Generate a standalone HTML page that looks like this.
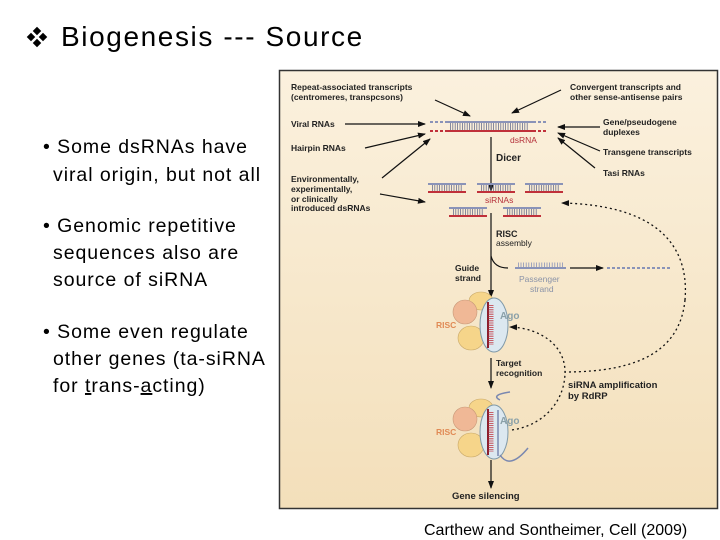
<!DOCTYPE html>
<html><head><meta charset="utf-8"><style>
html,body{margin:0;padding:0;background:#fff;width:720px;height:540px;overflow:hidden}
svg{display:block}
</style></head><body>
<svg width="720" height="540" viewBox="0 0 720 540" xmlns="http://www.w3.org/2000/svg" font-family="Liberation Sans, sans-serif">
<defs>
<linearGradient id="bg" x1="0" y1="0" x2="0" y2="1"><stop offset="0" stop-color="#fbf1de"/><stop offset="1" stop-color="#f3dfba"/></linearGradient>
<marker id="ah" markerWidth="8" markerHeight="8" refX="7" refY="4" orient="auto" markerUnits="userSpaceOnUse"><path d="M0,1 L8,4 L0,7 z" fill="#111"/></marker>
</defs>
<!-- title -->
<g fill="#000">
<rect x="34" y="28" width="6" height="6" transform="rotate(45 37 31)"/>
<rect x="34" y="40" width="6" height="6" transform="rotate(45 37 43)"/>
<rect x="28" y="34" width="6" height="6" transform="rotate(45 31 37)"/>
<rect x="40" y="34" width="6" height="6" transform="rotate(45 43 37)"/>
</g>
<text x="61" y="46" font-size="28" letter-spacing="1.6">Biogenesis --- Source</text>
<!-- bullets -->
<g font-size="19.5" fill="#000" letter-spacing="0.95">
<text x="43" y="153">• Some dsRNAs have</text>
<text x="53" y="181">viral origin, but not all</text>
<text x="43" y="232">• Genomic repetitive</text>
<text x="53" y="259">sequences also are</text>
<text x="53" y="286">source of siRNA</text>
<text x="43" y="338">• Some even regulate</text>
<text x="53" y="365">other genes (ta-siRNA</text>
<text x="53" y="392">for <tspan text-decoration="underline">t</tspan>rans-<tspan text-decoration="underline">a</tspan>cting)</text>
</g>
<text x="424" y="535" font-size="16">Carthew and Sontheimer, Cell (2009)</text>
<!-- figure -->
<rect x="279.5" y="70.5" width="438" height="438" fill="url(#bg)" stroke="#333" stroke-width="1.5"/>
<g font-size="8.5" font-weight="bold" fill="#222">
<text x="291" y="90">Repeat-associated transcripts</text>
<text x="291" y="100">(centromeres, transpcsons)</text>
<text x="570" y="90">Convergent transcripts and</text>
<text x="570" y="100">other sense-antisense pairs</text>
<text x="291" y="127">Viral RNAs</text>
<text x="291" y="151">Hairpin RNAs</text>
<text x="603" y="125">Gene/pseudogene</text>
<text x="603" y="135">duplexes</text>
<text x="603" y="155">Transgene transcripts</text>
<text x="603" y="176">Tasi RNAs</text>
<text x="291" y="182">Environmentally,</text>
<text x="291" y="192">experimentally,</text>
<text x="291" y="202">or clinically</text>
<text x="291" y="211">introduced dsRNAs</text>
<text x="496" y="161" font-size="10">Dicer</text>
<text x="496" y="237" font-size="9">RISC</text>
<text x="496" y="246" font-weight="normal">assembly</text>
<text x="455" y="271">Guide</text>
<text x="455" y="281">strand</text>
<text x="496" y="366">Target</text>
<text x="496" y="376">recognition</text>
<text x="568" y="388" font-size="9.5">siRNA amplification</text>
<text x="568" y="399" font-size="9.5">by RdRP</text>
<text x="452" y="499" font-size="9.5">Gene silencing</text>
</g>
<g font-size="8.5" font-weight="bold">
<text x="510" y="143" fill="#b5303a" font-weight="normal">dsRNA</text>
<text x="485" y="203" fill="#b5303a" font-weight="normal">siRNAs</text>
<text x="519" y="282" fill="#8a93a8" font-weight="normal">Passenger</text>
<text x="530" y="292" fill="#8a93a8" font-weight="normal">strand</text>
</g>
<!-- arrows -->
<g stroke="#111" stroke-width="1.2" fill="none" marker-end="url(#ah)">
<line x1="435" y1="100" x2="470" y2="116"/>
<line x1="561" y1="90" x2="512" y2="113"/>
<line x1="345" y1="124" x2="425" y2="124"/>
<line x1="365" y1="148" x2="425" y2="134"/>
<line x1="600" y1="127" x2="558" y2="127"/>
<line x1="600" y1="151" x2="558" y2="133"/>
<line x1="595" y1="168" x2="558" y2="138"/>
<line x1="382" y1="178" x2="430" y2="139"/>
<line x1="380" y1="194" x2="425" y2="202"/>
<line x1="491" y1="137" x2="491" y2="191"/>
<line x1="491" y1="213" x2="491" y2="297"/>
<line x1="570" y1="268" x2="603" y2="268"/>
<line x1="491" y1="358" x2="491" y2="388"/>
<line x1="491" y1="460" x2="491" y2="488"/>
</g>
<path d="M491,256 Q494,268 508,268" stroke="#111" stroke-width="1.2" fill="none"/>
<!-- dotted -->
<g stroke="#111" stroke-width="1.3" fill="none" stroke-dasharray="2,3">
<path d="M685,300 C690,240 650,205 562,203" marker-end="url(#ah)"/>
<path d="M685,300 C680,350 640,372 565,372"/>
<path d="M512,430 C545,425 565,400 565,372 C565,345 540,328 510,327" marker-end="url(#ah)"/>
</g>
<!-- dsRNA -->
<g stroke-width="2">
<line x1="430" y1="122" x2="445" y2="122" stroke="#8a93b8" stroke-dasharray="3,2"/>
<line x1="445" y1="122" x2="533" y2="122" stroke="#8a93b8"/>
<line x1="533" y1="122" x2="548" y2="122" stroke="#8a93b8" stroke-dasharray="3,2"/>
<line x1="430" y1="131" x2="445" y2="131" stroke="#c0303a" stroke-dasharray="3,2"/>
<line x1="445" y1="131" x2="533" y2="131" stroke="#c0303a"/>
<line x1="533" y1="131" x2="548" y2="131" stroke="#c0303a" stroke-dasharray="3,2"/>
<line x1="450" y1="126.5" x2="528" y2="126.5" stroke="#6a7090" stroke-width="7" stroke-dasharray="0.8,1.6"/>
</g>
<!-- siRNAs -->
<g stroke-width="2">
<g id="s1">
<line x1="428" y1="184" x2="466" y2="184" stroke="#8a93b8"/>
<line x1="428" y1="192" x2="466" y2="192" stroke="#c0303a"/>
<line x1="432" y1="188" x2="462" y2="188" stroke="#6a7090" stroke-width="6" stroke-dasharray="0.8,1.6"/>
</g>
<use href="#s1" transform="translate(49,0)"/>
<use href="#s1" transform="translate(97,0)"/>
<use href="#s1" transform="translate(21,24)"/>
<use href="#s1" transform="translate(75,24)"/>
</g>
<!-- passenger -->
<line x1="515" y1="268" x2="566" y2="268" stroke="#8a93b8" stroke-width="2"/>
<line x1="518" y1="265" x2="563" y2="265" stroke="#8a93b8" stroke-width="5" stroke-dasharray="0.8,1.8"/>
<line x1="607" y1="268" x2="670" y2="268" stroke="#8a93b8" stroke-width="2" stroke-dasharray="3,2"/>
<!-- RISC 1 -->
<g id="risc">
<ellipse cx="481" cy="301" rx="12" ry="9" fill="#f6d58a" stroke="#c8a868" stroke-width="0.6"/>
<ellipse cx="465" cy="312" rx="12" ry="12" fill="#f0b896" stroke="#c89878" stroke-width="0.6"/>
<ellipse cx="471" cy="338" rx="13" ry="12" fill="#f6d58a" stroke="#c8a868" stroke-width="0.6"/>
<ellipse cx="494" cy="325" rx="14" ry="27" fill="#dce8f0" stroke="#7f99a8" stroke-width="1"/>
<line x1="488" y1="302" x2="488" y2="348" stroke="#8a1f2e" stroke-width="2"/>
<line x1="491" y1="305" x2="491" y2="345" stroke="#c0303a" stroke-width="5" stroke-dasharray="0.8,1.4"/>
</g>
<use href="#risc" transform="translate(0,107)"/>
<line x1="498" y1="410" x2="498" y2="456" stroke="#7a88b0" stroke-width="1.5"/>
<path d="M500,400 Q490,395 510,392 M500,455 Q510,470 528,448" stroke="#7a88b0" stroke-width="1.5" fill="none"/>
<g font-size="8.5" font-weight="bold">
<text x="436" y="328" fill="#e08a55">RISC</text>
<text x="500" y="319" fill="#8aa0a8" font-size="10">Ago</text>
<text x="436" y="435" fill="#e08a55">RISC</text>
<text x="500" y="424" fill="#8aa0a8" font-size="10">Ago</text>
</g>
</svg>
</body></html>
